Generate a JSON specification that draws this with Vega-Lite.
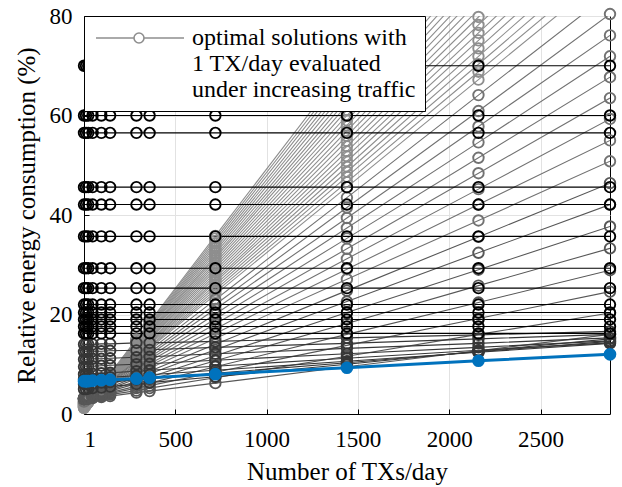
{
"$schema": "https://vega.github.io/schema/vega-lite/v6.json",
"width": 526, "height": 398,
"autosize": "none",
"padding": {"left": 84, "top": 16, "right": 12, "bottom": 73},
"config": {
 "font": "Liberation Serif",
 "view": {"stroke": "black", "strokeWidth": 1},
 "axis": {"labelFontSize": 23, "titleFontSize": 25, "titleFontWeight": "normal", "labelColor": "black", "titleColor": "black", "domainColor": "black", "domainWidth": 1, "tickColor": "black", "tickSize": -5, "gridColor": "#e2e2e2", "gridWidth": 1}
},
"data": {"values": [
{"g":1,"s":1,"x":1,"y":1.2},{"g":1,"s":1,"x":12,"y":1.8},{"g":1,"s":1,"x":24,"y":2.4},{"g":1,"s":1,"x":48,"y":3.5},{"g":1,"s":1,"x":96,"y":5.8},{"g":1,"s":1,"x":144,"y":8.1},{"g":1,"s":1,"x":288,"y":15.0},{"g":1,"s":1,"x":360,"y":18.5},{"g":1,"s":1,"x":720,"y":35.8},{"g":1,"s":1,"x":1440,"y":70.3},{"g":1,"s":1,"x":2160,"y":104.9},
{"g":1,"s":2,"x":1,"y":1.3},{"g":1,"s":2,"x":12,"y":1.9},{"g":1,"s":2,"x":24,"y":2.4},{"g":1,"s":2,"x":48,"y":3.5},{"g":1,"s":2,"x":96,"y":5.8},{"g":1,"s":2,"x":144,"y":8.0},{"g":1,"s":2,"x":288,"y":14.7},{"g":1,"s":2,"x":360,"y":18.0},{"g":1,"s":2,"x":720,"y":34.8},{"g":1,"s":2,"x":1440,"y":68.3},{"g":1,"s":2,"x":2160,"y":101.7},
{"g":1,"s":3,"x":1,"y":1.4},{"g":1,"s":3,"x":12,"y":1.9},{"g":1,"s":3,"x":24,"y":2.5},{"g":1,"s":3,"x":48,"y":3.6},{"g":1,"s":3,"x":96,"y":5.7},{"g":1,"s":3,"x":144,"y":7.9},{"g":1,"s":3,"x":288,"y":14.4},{"g":1,"s":3,"x":360,"y":17.6},{"g":1,"s":3,"x":720,"y":33.8},{"g":1,"s":3,"x":1440,"y":66.2},{"g":1,"s":3,"x":2160,"y":98.6},
{"g":1,"s":4,"x":1,"y":1.5},{"g":1,"s":4,"x":12,"y":2.0},{"g":1,"s":4,"x":24,"y":2.5},{"g":1,"s":4,"x":48,"y":3.6},{"g":1,"s":4,"x":96,"y":5.7},{"g":1,"s":4,"x":144,"y":7.8},{"g":1,"s":4,"x":288,"y":14.0},{"g":1,"s":4,"x":360,"y":17.2},{"g":1,"s":4,"x":720,"y":32.8},{"g":1,"s":4,"x":1440,"y":64.1},{"g":1,"s":4,"x":2160,"y":95.5},
{"g":1,"s":5,"x":1,"y":1.6},{"g":1,"s":5,"x":12,"y":2.1},{"g":1,"s":5,"x":24,"y":2.6},{"g":1,"s":5,"x":48,"y":3.6},{"g":1,"s":5,"x":96,"y":5.6},{"g":1,"s":5,"x":144,"y":7.6},{"g":1,"s":5,"x":288,"y":13.7},{"g":1,"s":5,"x":360,"y":16.7},{"g":1,"s":5,"x":720,"y":31.8},{"g":1,"s":5,"x":1440,"y":62.1},{"g":1,"s":5,"x":2160,"y":92.3},
{"g":1,"s":6,"x":1,"y":1.7},{"g":1,"s":6,"x":12,"y":2.2},{"g":1,"s":6,"x":24,"y":2.7},{"g":1,"s":6,"x":48,"y":3.6},{"g":1,"s":6,"x":96,"y":5.6},{"g":1,"s":6,"x":144,"y":7.5},{"g":1,"s":6,"x":288,"y":13.4},{"g":1,"s":6,"x":360,"y":16.3},{"g":1,"s":6,"x":720,"y":30.9},{"g":1,"s":6,"x":1440,"y":60.0},{"g":1,"s":6,"x":2160,"y":89.2},
{"g":1,"s":7,"x":1,"y":1.8},{"g":1,"s":7,"x":12,"y":2.3},{"g":1,"s":7,"x":24,"y":2.7},{"g":1,"s":7,"x":48,"y":3.7},{"g":1,"s":7,"x":96,"y":5.5},{"g":1,"s":7,"x":144,"y":7.4},{"g":1,"s":7,"x":288,"y":13.0},{"g":1,"s":7,"x":360,"y":15.8},{"g":1,"s":7,"x":720,"y":29.9},{"g":1,"s":7,"x":1440,"y":58.0},{"g":1,"s":7,"x":2160,"y":86.0},
{"g":1,"s":8,"x":1,"y":1.9},{"g":1,"s":8,"x":12,"y":2.4},{"g":1,"s":8,"x":24,"y":2.8},{"g":1,"s":8,"x":48,"y":3.7},{"g":1,"s":8,"x":96,"y":5.5},{"g":1,"s":8,"x":144,"y":7.3},{"g":1,"s":8,"x":288,"y":12.7},{"g":1,"s":8,"x":360,"y":15.4},{"g":1,"s":8,"x":720,"y":28.9},{"g":1,"s":8,"x":1440,"y":55.9},{"g":1,"s":8,"x":2160,"y":82.9},
{"g":1,"s":9,"x":1,"y":2.0},{"g":1,"s":9,"x":12,"y":2.4},{"g":1,"s":9,"x":24,"y":2.9},{"g":1,"s":9,"x":48,"y":3.7},{"g":1,"s":9,"x":96,"y":5.5},{"g":1,"s":9,"x":144,"y":7.2},{"g":1,"s":9,"x":288,"y":12.4},{"g":1,"s":9,"x":360,"y":15.0},{"g":1,"s":9,"x":720,"y":27.9},{"g":1,"s":9,"x":1440,"y":53.8},{"g":1,"s":9,"x":2160,"y":79.8},{"g":1,"s":9,"x":2880,"y":105.7},
{"g":1,"s":10,"x":1,"y":2.1},{"g":1,"s":10,"x":12,"y":2.5},{"g":1,"s":10,"x":24,"y":2.9},{"g":1,"s":10,"x":48,"y":3.8},{"g":1,"s":10,"x":96,"y":5.4},{"g":1,"s":10,"x":144,"y":7.1},{"g":1,"s":10,"x":288,"y":12.0},{"g":1,"s":10,"x":360,"y":14.5},{"g":1,"s":10,"x":720,"y":26.9},{"g":1,"s":10,"x":1440,"y":51.8},{"g":1,"s":10,"x":2160,"y":76.6},{"g":1,"s":10,"x":2880,"y":101.5},
{"g":1,"s":11,"x":1,"y":2.2},{"g":1,"s":11,"x":12,"y":2.6},{"g":1,"s":11,"x":24,"y":3.0},{"g":1,"s":11,"x":48,"y":3.8},{"g":1,"s":11,"x":96,"y":5.4},{"g":1,"s":11,"x":144,"y":7.0},{"g":1,"s":11,"x":288,"y":11.7},{"g":1,"s":11,"x":360,"y":14.1},{"g":1,"s":11,"x":720,"y":26.0},{"g":1,"s":11,"x":1440,"y":49.7},{"g":1,"s":11,"x":2160,"y":73.5},{"g":1,"s":11,"x":2880,"y":97.2},
{"g":1,"s":12,"x":1,"y":2.3},{"g":1,"s":12,"x":12,"y":2.7},{"g":1,"s":12,"x":24,"y":3.1},{"g":1,"s":12,"x":48,"y":3.8},{"g":1,"s":12,"x":96,"y":5.3},{"g":1,"s":12,"x":144,"y":6.8},{"g":1,"s":12,"x":288,"y":11.4},{"g":1,"s":12,"x":360,"y":13.6},{"g":1,"s":12,"x":720,"y":25.0},{"g":1,"s":12,"x":1440,"y":47.7},{"g":1,"s":12,"x":2160,"y":70.3},{"g":1,"s":12,"x":2880,"y":93.0},
{"g":1,"s":13,"x":1,"y":2.4},{"g":1,"s":13,"x":12,"y":2.8},{"g":1,"s":13,"x":24,"y":3.1},{"g":1,"s":13,"x":48,"y":3.8},{"g":1,"s":13,"x":96,"y":5.3},{"g":1,"s":13,"x":144,"y":6.7},{"g":1,"s":13,"x":288,"y":11.0},{"g":1,"s":13,"x":360,"y":13.2},{"g":1,"s":13,"x":720,"y":24.0},{"g":1,"s":13,"x":1440,"y":45.6},{"g":1,"s":13,"x":2160,"y":67.2},{"g":1,"s":13,"x":2880,"y":88.8},
{"g":1,"s":61,"x":1,"y":1.3},{"g":1,"s":61,"x":12,"y":1.8},{"g":1,"s":61,"x":24,"y":2.4},{"g":1,"s":61,"x":48,"y":3.5},{"g":1,"s":61,"x":96,"y":5.8},{"g":1,"s":61,"x":144,"y":8.1},{"g":1,"s":61,"x":288,"y":14.9},{"g":1,"s":61,"x":360,"y":18.3},{"g":1,"s":61,"x":720,"y":35.3},{"g":1,"s":61,"x":1440,"y":69.3},{"g":1,"s":61,"x":2160,"y":103.3},
{"g":1,"s":62,"x":1,"y":1.4},{"g":1,"s":62,"x":12,"y":1.9},{"g":1,"s":62,"x":24,"y":2.4},{"g":1,"s":62,"x":48,"y":3.5},{"g":1,"s":62,"x":96,"y":5.7},{"g":1,"s":62,"x":144,"y":7.9},{"g":1,"s":62,"x":288,"y":14.5},{"g":1,"s":62,"x":360,"y":17.8},{"g":1,"s":62,"x":720,"y":34.3},{"g":1,"s":62,"x":1440,"y":67.2},{"g":1,"s":62,"x":2160,"y":100.2},
{"g":1,"s":63,"x":1,"y":1.5},{"g":1,"s":63,"x":12,"y":2.0},{"g":1,"s":63,"x":24,"y":2.5},{"g":1,"s":63,"x":48,"y":3.6},{"g":1,"s":63,"x":96,"y":5.7},{"g":1,"s":63,"x":144,"y":7.8},{"g":1,"s":63,"x":288,"y":14.2},{"g":1,"s":63,"x":360,"y":17.4},{"g":1,"s":63,"x":720,"y":33.3},{"g":1,"s":63,"x":1440,"y":65.2},{"g":1,"s":63,"x":2160,"y":97.0},
{"g":1,"s":64,"x":1,"y":1.6},{"g":1,"s":64,"x":12,"y":2.1},{"g":1,"s":64,"x":24,"y":2.6},{"g":1,"s":64,"x":48,"y":3.6},{"g":1,"s":64,"x":96,"y":5.7},{"g":1,"s":64,"x":144,"y":7.7},{"g":1,"s":64,"x":288,"y":13.9},{"g":1,"s":64,"x":360,"y":16.9},{"g":1,"s":64,"x":720,"y":32.3},{"g":1,"s":64,"x":1440,"y":63.1},{"g":1,"s":64,"x":2160,"y":93.9},
{"g":1,"s":65,"x":1,"y":1.7},{"g":1,"s":65,"x":12,"y":2.1},{"g":1,"s":65,"x":24,"y":2.6},{"g":1,"s":65,"x":48,"y":3.6},{"g":1,"s":65,"x":96,"y":5.6},{"g":1,"s":65,"x":144,"y":7.6},{"g":1,"s":65,"x":288,"y":13.5},{"g":1,"s":65,"x":360,"y":16.5},{"g":1,"s":65,"x":720,"y":31.4},{"g":1,"s":65,"x":1440,"y":61.1},{"g":1,"s":65,"x":2160,"y":90.8},
{"g":1,"s":66,"x":1,"y":1.8},{"g":1,"s":66,"x":12,"y":2.2},{"g":1,"s":66,"x":24,"y":2.7},{"g":1,"s":66,"x":48,"y":3.7},{"g":1,"s":66,"x":96,"y":5.6},{"g":1,"s":66,"x":144,"y":7.5},{"g":1,"s":66,"x":288,"y":13.2},{"g":1,"s":66,"x":360,"y":16.1},{"g":1,"s":66,"x":720,"y":30.4},{"g":1,"s":66,"x":1440,"y":59.0},{"g":1,"s":66,"x":2160,"y":87.6},
{"g":1,"s":67,"x":1,"y":1.9},{"g":1,"s":67,"x":12,"y":2.3},{"g":1,"s":67,"x":24,"y":2.8},{"g":1,"s":67,"x":48,"y":3.7},{"g":1,"s":67,"x":96,"y":5.5},{"g":1,"s":67,"x":144,"y":7.4},{"g":1,"s":67,"x":288,"y":12.9},{"g":1,"s":67,"x":360,"y":15.6},{"g":1,"s":67,"x":720,"y":29.4},{"g":1,"s":67,"x":1440,"y":56.9},{"g":1,"s":67,"x":2160,"y":84.5},
{"g":1,"s":68,"x":1,"y":2.0},{"g":1,"s":68,"x":12,"y":2.4},{"g":1,"s":68,"x":24,"y":2.8},{"g":1,"s":68,"x":48,"y":3.7},{"g":1,"s":68,"x":96,"y":5.5},{"g":1,"s":68,"x":144,"y":7.2},{"g":1,"s":68,"x":288,"y":12.5},{"g":1,"s":68,"x":360,"y":15.2},{"g":1,"s":68,"x":720,"y":28.4},{"g":1,"s":68,"x":1440,"y":54.9},{"g":1,"s":68,"x":2160,"y":81.3},
{"g":1,"s":69,"x":1,"y":2.1},{"g":1,"s":69,"x":12,"y":2.5},{"g":1,"s":69,"x":24,"y":2.9},{"g":1,"s":69,"x":48,"y":3.7},{"g":1,"s":69,"x":96,"y":5.4},{"g":1,"s":69,"x":144,"y":7.1},{"g":1,"s":69,"x":288,"y":12.2},{"g":1,"s":69,"x":360,"y":14.7},{"g":1,"s":69,"x":720,"y":27.4},{"g":1,"s":69,"x":1440,"y":52.8},{"g":1,"s":69,"x":2160,"y":78.2},{"g":1,"s":69,"x":2880,"y":103.6},
{"g":1,"s":70,"x":1,"y":2.2},{"g":1,"s":70,"x":12,"y":2.6},{"g":1,"s":70,"x":24,"y":3.0},{"g":1,"s":70,"x":48,"y":3.8},{"g":1,"s":70,"x":96,"y":5.4},{"g":1,"s":70,"x":144,"y":7.0},{"g":1,"s":70,"x":288,"y":11.9},{"g":1,"s":70,"x":360,"y":14.3},{"g":1,"s":70,"x":720,"y":26.5},{"g":1,"s":70,"x":1440,"y":50.8},{"g":1,"s":70,"x":2160,"y":75.1},{"g":1,"s":70,"x":2880,"y":99.4},
{"g":1,"s":71,"x":1,"y":2.3},{"g":1,"s":71,"x":12,"y":2.6},{"g":1,"s":71,"x":24,"y":3.0},{"g":1,"s":71,"x":48,"y":3.8},{"g":1,"s":71,"x":96,"y":5.3},{"g":1,"s":71,"x":144,"y":6.9},{"g":1,"s":71,"x":288,"y":11.5},{"g":1,"s":71,"x":360,"y":13.9},{"g":1,"s":71,"x":720,"y":25.5},{"g":1,"s":71,"x":1440,"y":48.7},{"g":1,"s":71,"x":2160,"y":71.9},{"g":1,"s":71,"x":2880,"y":95.1},
{"g":1,"s":72,"x":1,"y":2.4},{"g":1,"s":72,"x":12,"y":2.7},{"g":1,"s":72,"x":24,"y":3.1},{"g":1,"s":72,"x":48,"y":3.8},{"g":1,"s":72,"x":96,"y":5.3},{"g":1,"s":72,"x":144,"y":6.8},{"g":1,"s":72,"x":288,"y":11.2},{"g":1,"s":72,"x":360,"y":13.4},{"g":1,"s":72,"x":720,"y":24.5},{"g":1,"s":72,"x":1440,"y":46.6},{"g":1,"s":72,"x":2160,"y":68.8},{"g":1,"s":72,"x":2880,"y":90.9},
{"g":2,"s":14,"x":1,"y":2.5},{"g":2,"s":14,"x":12,"y":2.8},{"g":2,"s":14,"x":24,"y":3.2},{"g":2,"s":14,"x":48,"y":3.9},{"g":2,"s":14,"x":96,"y":5.2},{"g":2,"s":14,"x":144,"y":6.6},{"g":2,"s":14,"x":288,"y":10.7},{"g":2,"s":14,"x":360,"y":12.8},{"g":2,"s":14,"x":720,"y":23.0},{"g":2,"s":14,"x":1440,"y":43.5},{"g":2,"s":14,"x":2160,"y":64.1},{"g":2,"s":14,"x":2880,"y":84.6},
{"g":2,"s":15,"x":1,"y":2.6},{"g":2,"s":15,"x":12,"y":2.9},{"g":2,"s":15,"x":24,"y":3.2},{"g":2,"s":15,"x":48,"y":3.9},{"g":2,"s":15,"x":96,"y":5.2},{"g":2,"s":15,"x":144,"y":6.5},{"g":2,"s":15,"x":288,"y":10.4},{"g":2,"s":15,"x":360,"y":12.3},{"g":2,"s":15,"x":720,"y":22.0},{"g":2,"s":15,"x":1440,"y":41.5},{"g":2,"s":15,"x":2160,"y":60.9},{"g":2,"s":15,"x":2880,"y":80.4},
{"g":2,"s":16,"x":1,"y":2.7},{"g":2,"s":16,"x":12,"y":3.0},{"g":2,"s":16,"x":24,"y":3.3},{"g":2,"s":16,"x":48,"y":3.9},{"g":2,"s":16,"x":96,"y":5.1},{"g":2,"s":16,"x":144,"y":6.4},{"g":2,"s":16,"x":288,"y":10.0},{"g":2,"s":16,"x":360,"y":11.9},{"g":2,"s":16,"x":720,"y":21.1},{"g":2,"s":16,"x":1440,"y":39.4},{"g":2,"s":16,"x":2160,"y":57.8},{"g":2,"s":16,"x":2880,"y":76.1},
{"g":2,"s":17,"x":1,"y":2.8},{"g":2,"s":17,"x":12,"y":3.1},{"g":2,"s":17,"x":24,"y":3.4},{"g":2,"s":17,"x":48,"y":4.0},{"g":2,"s":17,"x":96,"y":5.1},{"g":2,"s":17,"x":144,"y":6.3},{"g":2,"s":17,"x":288,"y":9.7},{"g":2,"s":17,"x":360,"y":11.4},{"g":2,"s":17,"x":720,"y":20.1},{"g":2,"s":17,"x":1440,"y":37.4},{"g":2,"s":17,"x":2160,"y":54.6},{"g":2,"s":17,"x":2880,"y":71.9},
{"g":2,"s":18,"x":1,"y":2.9},{"g":2,"s":18,"x":12,"y":3.2},{"g":2,"s":18,"x":24,"y":3.4},{"g":2,"s":18,"x":48,"y":4.0},{"g":2,"s":18,"x":96,"y":5.1},{"g":2,"s":18,"x":144,"y":6.1},{"g":2,"s":18,"x":288,"y":9.4},{"g":2,"s":18,"x":360,"y":11.0},{"g":2,"s":18,"x":720,"y":19.1},{"g":2,"s":18,"x":1440,"y":35.3},{"g":2,"s":18,"x":2160,"y":51.5},{"g":2,"s":18,"x":2880,"y":67.7},
{"g":2,"s":19,"x":1,"y":3.0},{"g":2,"s":19,"x":12,"y":3.3},{"g":2,"s":19,"x":24,"y":3.5},{"g":2,"s":19,"x":48,"y":4.0},{"g":2,"s":19,"x":96,"y":5.0},{"g":2,"s":19,"x":144,"y":6.0},{"g":2,"s":19,"x":288,"y":9.0},{"g":2,"s":19,"x":360,"y":10.6},{"g":2,"s":19,"x":720,"y":18.1},{"g":2,"s":19,"x":1440,"y":33.2},{"g":2,"s":19,"x":2160,"y":48.4},{"g":2,"s":19,"x":2880,"y":63.5},
{"g":2,"s":20,"x":1,"y":3.1},{"g":2,"s":20,"x":12,"y":3.3},{"g":2,"s":20,"x":24,"y":3.6},{"g":2,"s":20,"x":48,"y":4.0},{"g":2,"s":20,"x":96,"y":5.0},{"g":2,"s":20,"x":144,"y":5.9},{"g":2,"s":20,"x":288,"y":8.7},{"g":2,"s":20,"x":360,"y":10.1},{"g":2,"s":20,"x":720,"y":17.1},{"g":2,"s":20,"x":1440,"y":31.2},{"g":2,"s":20,"x":2160,"y":45.2},{"g":2,"s":20,"x":2880,"y":59.3},
{"g":2,"s":21,"x":1,"y":3.2},{"g":2,"s":21,"x":12,"y":3.4},{"g":2,"s":21,"x":24,"y":3.6},{"g":2,"s":21,"x":48,"y":4.1},{"g":2,"s":21,"x":96,"y":4.9},{"g":2,"s":21,"x":144,"y":5.8},{"g":2,"s":21,"x":288,"y":8.4},{"g":2,"s":21,"x":360,"y":9.7},{"g":2,"s":21,"x":720,"y":16.2},{"g":2,"s":21,"x":1440,"y":29.1},{"g":2,"s":21,"x":2160,"y":42.1},{"g":2,"s":21,"x":2880,"y":55.0},
{"g":2,"s":22,"x":1,"y":3.3},{"g":2,"s":22,"x":12,"y":3.5},{"g":2,"s":22,"x":24,"y":3.7},{"g":2,"s":22,"x":48,"y":4.1},{"g":2,"s":22,"x":96,"y":4.9},{"g":2,"s":22,"x":144,"y":5.7},{"g":2,"s":22,"x":288,"y":8.1},{"g":2,"s":22,"x":360,"y":9.2},{"g":2,"s":22,"x":720,"y":15.2},{"g":2,"s":22,"x":1440,"y":27.1},{"g":2,"s":22,"x":2160,"y":38.9},{"g":2,"s":22,"x":2880,"y":50.8},
{"g":3,"s":23,"x":1,"y":3.2},{"g":3,"s":23,"x":12,"y":3.4},{"g":3,"s":23,"x":24,"y":3.6},{"g":3,"s":23,"x":48,"y":3.9},{"g":3,"s":23,"x":96,"y":4.6},{"g":3,"s":23,"x":144,"y":5.4},{"g":3,"s":23,"x":288,"y":7.5},{"g":3,"s":23,"x":360,"y":8.6},{"g":3,"s":23,"x":720,"y":14.0},{"g":3,"s":23,"x":1440,"y":24.8},{"g":3,"s":23,"x":2160,"y":35.6},{"g":3,"s":23,"x":2880,"y":46.4},
{"g":3,"s":24,"x":1,"y":3.2},{"g":3,"s":24,"x":12,"y":3.4},{"g":3,"s":24,"x":24,"y":3.5},{"g":3,"s":24,"x":48,"y":3.8},{"g":3,"s":24,"x":96,"y":4.5},{"g":3,"s":24,"x":144,"y":5.1},{"g":3,"s":24,"x":288,"y":7.1},{"g":3,"s":24,"x":360,"y":8.1},{"g":3,"s":24,"x":720,"y":12.9},{"g":3,"s":24,"x":1440,"y":22.6},{"g":3,"s":24,"x":2160,"y":32.4},{"g":3,"s":24,"x":2880,"y":42.1},
{"g":3,"s":25,"x":1,"y":3.1},{"g":3,"s":25,"x":12,"y":3.2},{"g":3,"s":25,"x":24,"y":3.4},{"g":3,"s":25,"x":48,"y":3.7},{"g":3,"s":25,"x":96,"y":4.3},{"g":3,"s":25,"x":144,"y":4.8},{"g":3,"s":25,"x":288,"y":6.6},{"g":3,"s":25,"x":360,"y":7.4},{"g":3,"s":25,"x":720,"y":11.7},{"g":3,"s":25,"x":1440,"y":20.4},{"g":3,"s":25,"x":2160,"y":29.0},{"g":3,"s":25,"x":2880,"y":37.7},
{"g":3,"s":26,"x":1,"y":3.1},{"g":3,"s":26,"x":12,"y":3.2},{"g":3,"s":26,"x":24,"y":3.4},{"g":3,"s":26,"x":48,"y":3.6},{"g":3,"s":26,"x":96,"y":4.1},{"g":3,"s":26,"x":144,"y":4.6},{"g":3,"s":26,"x":288,"y":6.1},{"g":3,"s":26,"x":360,"y":6.9},{"g":3,"s":26,"x":720,"y":10.7},{"g":3,"s":26,"x":1440,"y":18.2},{"g":3,"s":26,"x":2160,"y":25.8},{"g":3,"s":26,"x":2880,"y":33.3},
{"g":3,"s":27,"x":1,"y":3.0},{"g":3,"s":27,"x":12,"y":3.1},{"g":3,"s":27,"x":24,"y":3.2},{"g":3,"s":27,"x":48,"y":3.4},{"g":3,"s":27,"x":96,"y":3.9},{"g":3,"s":27,"x":144,"y":4.3},{"g":3,"s":27,"x":288,"y":5.6},{"g":3,"s":27,"x":360,"y":6.2},{"g":3,"s":27,"x":720,"y":9.5},{"g":3,"s":27,"x":1440,"y":16.0},{"g":3,"s":27,"x":2160,"y":22.4},{"g":3,"s":27,"x":2880,"y":28.9},
{"g":3,"s":28,"x":1,"y":3.0},{"g":3,"s":28,"x":12,"y":3.1},{"g":3,"s":28,"x":24,"y":3.2},{"g":3,"s":28,"x":48,"y":3.4},{"g":3,"s":28,"x":96,"y":3.7},{"g":3,"s":28,"x":144,"y":4.1},{"g":3,"s":28,"x":288,"y":5.2},{"g":3,"s":28,"x":360,"y":5.7},{"g":3,"s":28,"x":720,"y":8.4},{"g":3,"s":28,"x":1440,"y":13.8},{"g":3,"s":28,"x":2160,"y":19.2},{"g":3,"s":28,"x":2880,"y":24.6},
{"g":3,"s":29,"x":1,"y":3.0},{"g":3,"s":29,"x":12,"y":3.1},{"g":3,"s":29,"x":24,"y":3.1},{"g":3,"s":29,"x":48,"y":3.3},{"g":3,"s":29,"x":96,"y":3.6},{"g":3,"s":29,"x":144,"y":3.9},{"g":3,"s":29,"x":288,"y":4.7},{"g":3,"s":29,"x":360,"y":5.2},{"g":3,"s":29,"x":720,"y":7.3},{"g":3,"s":29,"x":1440,"y":11.6},{"g":3,"s":29,"x":2160,"y":16.0},{"g":3,"s":29,"x":2880,"y":20.3},
{"g":3,"s":30,"x":1,"y":3.0},{"g":3,"s":30,"x":12,"y":3.1},{"g":3,"s":30,"x":24,"y":3.1},{"g":3,"s":30,"x":48,"y":3.2},{"g":3,"s":30,"x":96,"y":3.4},{"g":3,"s":30,"x":144,"y":3.6},{"g":3,"s":30,"x":288,"y":4.3},{"g":3,"s":30,"x":360,"y":4.6},{"g":3,"s":30,"x":720,"y":6.2},{"g":3,"s":30,"x":1440,"y":9.5},{"g":3,"s":30,"x":2160,"y":12.7},{"g":3,"s":30,"x":2880,"y":16.0},
{"g":4,"s":31,"x":1,"y":5.0},{"g":4,"s":31,"x":12,"y":5.0},{"g":4,"s":31,"x":24,"y":5.1},{"g":4,"s":31,"x":48,"y":5.2},{"g":4,"s":31,"x":96,"y":5.3},{"g":4,"s":31,"x":144,"y":5.5},{"g":4,"s":31,"x":288,"y":6.0},{"g":4,"s":31,"x":360,"y":6.3},{"g":4,"s":31,"x":720,"y":7.5},{"g":4,"s":31,"x":1440,"y":10.0},{"g":4,"s":31,"x":2160,"y":12.6},{"g":4,"s":31,"x":2880,"y":15.1},
{"g":4,"s":32,"x":1,"y":6.0},{"g":4,"s":32,"x":12,"y":6.0},{"g":4,"s":32,"x":24,"y":6.1},{"g":4,"s":32,"x":48,"y":6.1},{"g":4,"s":32,"x":96,"y":6.3},{"g":4,"s":32,"x":144,"y":6.4},{"g":4,"s":32,"x":288,"y":6.9},{"g":4,"s":32,"x":360,"y":7.1},{"g":4,"s":32,"x":720,"y":8.2},{"g":4,"s":32,"x":1440,"y":10.3},{"g":4,"s":32,"x":2160,"y":12.5},{"g":4,"s":32,"x":2880,"y":14.6},
{"g":4,"s":33,"x":1,"y":7.0},{"g":4,"s":33,"x":12,"y":7.0},{"g":4,"s":33,"x":24,"y":7.1},{"g":4,"s":33,"x":48,"y":7.1},{"g":4,"s":33,"x":96,"y":7.2},{"g":4,"s":33,"x":144,"y":7.4},{"g":4,"s":33,"x":288,"y":7.7},{"g":4,"s":33,"x":360,"y":7.9},{"g":4,"s":33,"x":720,"y":8.8},{"g":4,"s":33,"x":1440,"y":10.6},{"g":4,"s":33,"x":2160,"y":12.4},{"g":4,"s":33,"x":2880,"y":14.2},
{"g":4,"s":34,"x":1,"y":8.0},{"g":4,"s":34,"x":12,"y":8.0},{"g":4,"s":34,"x":24,"y":8.1},{"g":4,"s":34,"x":48,"y":8.1},{"g":4,"s":34,"x":96,"y":8.2},{"g":4,"s":34,"x":144,"y":8.3},{"g":4,"s":34,"x":288,"y":8.6},{"g":4,"s":34,"x":360,"y":8.8},{"g":4,"s":34,"x":720,"y":9.6},{"g":4,"s":34,"x":1440,"y":11.2},{"g":4,"s":34,"x":2160,"y":12.8},{"g":4,"s":34,"x":2880,"y":14.3},
{"g":4,"s":35,"x":1,"y":9.5},{"g":4,"s":35,"x":12,"y":9.5},{"g":4,"s":35,"x":24,"y":9.5},{"g":4,"s":35,"x":48,"y":9.6},{"g":4,"s":35,"x":96,"y":9.7},{"g":4,"s":35,"x":144,"y":9.8},{"g":4,"s":35,"x":288,"y":10.0},{"g":4,"s":35,"x":360,"y":10.1},{"g":4,"s":35,"x":720,"y":10.8},{"g":4,"s":35,"x":1440,"y":12.1},{"g":4,"s":35,"x":2160,"y":13.4},{"g":4,"s":35,"x":2880,"y":14.7},
{"g":4,"s":36,"x":1,"y":11.0},{"g":4,"s":36,"x":12,"y":11.0},{"g":4,"s":36,"x":24,"y":11.0},{"g":4,"s":36,"x":48,"y":11.1},{"g":4,"s":36,"x":96,"y":11.1},{"g":4,"s":36,"x":144,"y":11.2},{"g":4,"s":36,"x":288,"y":11.4},{"g":4,"s":36,"x":360,"y":11.5},{"g":4,"s":36,"x":720,"y":12.1},{"g":4,"s":36,"x":1440,"y":13.2},{"g":4,"s":36,"x":2160,"y":14.2},{"g":4,"s":36,"x":2880,"y":15.3},
{"g":4,"s":37,"x":1,"y":12.5},{"g":4,"s":37,"x":12,"y":12.5},{"g":4,"s":37,"x":24,"y":12.5},{"g":4,"s":37,"x":48,"y":12.6},{"g":4,"s":37,"x":96,"y":12.6},{"g":4,"s":37,"x":144,"y":12.7},{"g":4,"s":37,"x":288,"y":12.8},{"g":4,"s":37,"x":360,"y":12.9},{"g":4,"s":37,"x":720,"y":13.4},{"g":4,"s":37,"x":1440,"y":14.2},{"g":4,"s":37,"x":2160,"y":15.1},{"g":4,"s":37,"x":2880,"y":16.0},
{"g":4,"s":38,"x":1,"y":14.0},{"g":4,"s":38,"x":12,"y":14.0},{"g":4,"s":38,"x":24,"y":14.0},{"g":4,"s":38,"x":48,"y":14.0},{"g":4,"s":38,"x":96,"y":14.1},{"g":4,"s":38,"x":144,"y":14.1},{"g":4,"s":38,"x":288,"y":14.3},{"g":4,"s":38,"x":360,"y":14.3},{"g":4,"s":38,"x":720,"y":14.6},{"g":4,"s":38,"x":1440,"y":15.3},{"g":4,"s":38,"x":2160,"y":15.9},{"g":4,"s":38,"x":2880,"y":16.6},
{"g":5,"s":39,"x":1,"y":70.0},{"g":5,"s":39,"x":12,"y":70.0},{"g":5,"s":39,"x":24,"y":70.0},{"g":5,"s":39,"x":48,"y":70.0},{"g":5,"s":39,"x":96,"y":70.0},{"g":5,"s":39,"x":144,"y":70.0},{"g":5,"s":39,"x":288,"y":70.0},{"g":5,"s":39,"x":360,"y":70.0},{"g":5,"s":39,"x":720,"y":70.0},{"g":5,"s":39,"x":1440,"y":70.0},{"g":5,"s":39,"x":2160,"y":70.0},{"g":5,"s":39,"x":2880,"y":70.0},
{"g":5,"s":40,"x":1,"y":60.0},{"g":5,"s":40,"x":12,"y":60.0},{"g":5,"s":40,"x":24,"y":60.0},{"g":5,"s":40,"x":48,"y":60.0},{"g":5,"s":40,"x":96,"y":60.0},{"g":5,"s":40,"x":144,"y":60.0},{"g":5,"s":40,"x":288,"y":60.0},{"g":5,"s":40,"x":360,"y":60.0},{"g":5,"s":40,"x":720,"y":60.0},{"g":5,"s":40,"x":1440,"y":60.0},{"g":5,"s":40,"x":2160,"y":60.0},{"g":5,"s":40,"x":2880,"y":60.0},
{"g":5,"s":41,"x":1,"y":56.5},{"g":5,"s":41,"x":12,"y":56.5},{"g":5,"s":41,"x":24,"y":56.5},{"g":5,"s":41,"x":48,"y":56.5},{"g":5,"s":41,"x":96,"y":56.5},{"g":5,"s":41,"x":144,"y":56.5},{"g":5,"s":41,"x":288,"y":56.5},{"g":5,"s":41,"x":360,"y":56.5},{"g":5,"s":41,"x":720,"y":56.5},{"g":5,"s":41,"x":1440,"y":56.5},{"g":5,"s":41,"x":2160,"y":56.5},{"g":5,"s":41,"x":2880,"y":56.5},
{"g":5,"s":42,"x":1,"y":45.6},{"g":5,"s":42,"x":12,"y":45.6},{"g":5,"s":42,"x":24,"y":45.6},{"g":5,"s":42,"x":48,"y":45.6},{"g":5,"s":42,"x":96,"y":45.6},{"g":5,"s":42,"x":144,"y":45.6},{"g":5,"s":42,"x":288,"y":45.6},{"g":5,"s":42,"x":360,"y":45.6},{"g":5,"s":42,"x":720,"y":45.6},{"g":5,"s":42,"x":1440,"y":45.6},{"g":5,"s":42,"x":2160,"y":45.6},{"g":5,"s":42,"x":2880,"y":45.6},
{"g":5,"s":43,"x":1,"y":42.1},{"g":5,"s":43,"x":12,"y":42.1},{"g":5,"s":43,"x":24,"y":42.1},{"g":5,"s":43,"x":48,"y":42.1},{"g":5,"s":43,"x":96,"y":42.1},{"g":5,"s":43,"x":144,"y":42.1},{"g":5,"s":43,"x":288,"y":42.1},{"g":5,"s":43,"x":360,"y":42.1},{"g":5,"s":43,"x":720,"y":42.1},{"g":5,"s":43,"x":1440,"y":42.1},{"g":5,"s":43,"x":2160,"y":42.1},{"g":5,"s":43,"x":2880,"y":42.1},
{"g":5,"s":44,"x":1,"y":35.7},{"g":5,"s":44,"x":12,"y":35.7},{"g":5,"s":44,"x":24,"y":35.7},{"g":5,"s":44,"x":48,"y":35.7},{"g":5,"s":44,"x":96,"y":35.7},{"g":5,"s":44,"x":144,"y":35.7},{"g":5,"s":44,"x":288,"y":35.7},{"g":5,"s":44,"x":360,"y":35.7},{"g":5,"s":44,"x":720,"y":35.7},{"g":5,"s":44,"x":1440,"y":35.7},{"g":5,"s":44,"x":2160,"y":35.7},{"g":5,"s":44,"x":2880,"y":35.7},
{"g":5,"s":45,"x":1,"y":29.3},{"g":5,"s":45,"x":12,"y":29.3},{"g":5,"s":45,"x":24,"y":29.3},{"g":5,"s":45,"x":48,"y":29.3},{"g":5,"s":45,"x":96,"y":29.3},{"g":5,"s":45,"x":144,"y":29.3},{"g":5,"s":45,"x":288,"y":29.3},{"g":5,"s":45,"x":360,"y":29.3},{"g":5,"s":45,"x":720,"y":29.3},{"g":5,"s":45,"x":1440,"y":29.3},{"g":5,"s":45,"x":2160,"y":29.3},{"g":5,"s":45,"x":2880,"y":29.3},
{"g":5,"s":46,"x":1,"y":25.3},{"g":5,"s":46,"x":12,"y":25.3},{"g":5,"s":46,"x":24,"y":25.3},{"g":5,"s":46,"x":48,"y":25.3},{"g":5,"s":46,"x":96,"y":25.3},{"g":5,"s":46,"x":144,"y":25.3},{"g":5,"s":46,"x":288,"y":25.3},{"g":5,"s":46,"x":360,"y":25.3},{"g":5,"s":46,"x":720,"y":25.3},{"g":5,"s":46,"x":1440,"y":25.3},{"g":5,"s":46,"x":2160,"y":25.3},{"g":5,"s":46,"x":2880,"y":25.3},
{"g":5,"s":47,"x":1,"y":22.0},{"g":5,"s":47,"x":12,"y":22.0},{"g":5,"s":47,"x":24,"y":22.0},{"g":5,"s":47,"x":48,"y":22.0},{"g":5,"s":47,"x":96,"y":22.0},{"g":5,"s":47,"x":144,"y":22.0},{"g":5,"s":47,"x":288,"y":22.0},{"g":5,"s":47,"x":360,"y":22.0},{"g":5,"s":47,"x":720,"y":22.0},{"g":5,"s":47,"x":1440,"y":22.0},{"g":5,"s":47,"x":2160,"y":22.0},{"g":5,"s":47,"x":2880,"y":22.0},
{"g":5,"s":48,"x":1,"y":20.4},{"g":5,"s":48,"x":12,"y":20.4},{"g":5,"s":48,"x":24,"y":20.4},{"g":5,"s":48,"x":48,"y":20.4},{"g":5,"s":48,"x":96,"y":20.4},{"g":5,"s":48,"x":144,"y":20.4},{"g":5,"s":48,"x":288,"y":20.4},{"g":5,"s":48,"x":360,"y":20.4},{"g":5,"s":48,"x":720,"y":20.4},{"g":5,"s":48,"x":1440,"y":20.4},{"g":5,"s":48,"x":2160,"y":20.4},{"g":5,"s":48,"x":2880,"y":20.4},
{"g":5,"s":49,"x":1,"y":19.0},{"g":5,"s":49,"x":12,"y":19.0},{"g":5,"s":49,"x":24,"y":19.0},{"g":5,"s":49,"x":48,"y":19.0},{"g":5,"s":49,"x":96,"y":19.0},{"g":5,"s":49,"x":144,"y":19.0},{"g":5,"s":49,"x":288,"y":19.0},{"g":5,"s":49,"x":360,"y":19.0},{"g":5,"s":49,"x":720,"y":19.0},{"g":5,"s":49,"x":1440,"y":19.0},{"g":5,"s":49,"x":2160,"y":19.0},{"g":5,"s":49,"x":2880,"y":19.0},
{"g":5,"s":50,"x":1,"y":17.6},{"g":5,"s":50,"x":12,"y":17.6},{"g":5,"s":50,"x":24,"y":17.6},{"g":5,"s":50,"x":48,"y":17.6},{"g":5,"s":50,"x":96,"y":17.6},{"g":5,"s":50,"x":144,"y":17.6},{"g":5,"s":50,"x":288,"y":17.6},{"g":5,"s":50,"x":360,"y":17.6},{"g":5,"s":50,"x":720,"y":17.6},{"g":5,"s":50,"x":1440,"y":17.6},{"g":5,"s":50,"x":2160,"y":17.6},{"g":5,"s":50,"x":2880,"y":17.6},
{"g":5,"s":51,"x":1,"y":16.2},{"g":5,"s":51,"x":12,"y":16.2},{"g":5,"s":51,"x":24,"y":16.2},{"g":5,"s":51,"x":48,"y":16.2},{"g":5,"s":51,"x":96,"y":16.2},{"g":5,"s":51,"x":144,"y":16.2},{"g":5,"s":51,"x":288,"y":16.2},{"g":5,"s":51,"x":360,"y":16.2},{"g":5,"s":51,"x":720,"y":16.2},{"g":5,"s":51,"x":1440,"y":16.2},{"g":5,"s":51,"x":2160,"y":16.2},{"g":5,"s":51,"x":2880,"y":16.2},
{"g":6,"s":52,"x":1,"y":6.6},{"g":6,"s":52,"x":12,"y":6.6},{"g":6,"s":52,"x":24,"y":6.6},{"g":6,"s":52,"x":48,"y":6.7},{"g":6,"s":52,"x":96,"y":6.8},{"g":6,"s":52,"x":144,"y":6.9},{"g":6,"s":52,"x":288,"y":7.1},{"g":6,"s":52,"x":360,"y":7.3},{"g":6,"s":52,"x":720,"y":8.0},{"g":6,"s":52,"x":1440,"y":9.3},{"g":6,"s":52,"x":2160,"y":10.7},{"g":6,"s":52,"x":2880,"y":12.0}
]},
"encoding": {
 "x": {"field": "x", "type": "quantitative", "scale": {"domain": [1, 2880], "nice": false, "zero": false},
  "axis": {"title": "Number of TXs/day", "values": [1, 500, 1000, 1500, 2000, 2500], "format": "d", "labelPadding": 19, "titlePadding": 8, "grid": true}},
 "y": {"field": "y", "type": "quantitative", "scale": {"domain": [0, 80], "nice": false},
  "axis": {"title": "Relative energy consumption (%)", "values": [0, 20, 40, 60, 80], "labelPadding": 17, "titlePadding": 10, "grid": true}},
 "detail": {"field": "s", "type": "nominal"}
},
"layer": [
 {"transform": [{"filter": "datum.g != 6"}], "mark": {"type": "line", "clip": true, "strokeWidth": 1.1},
  "encoding": {"color": {"field": "g", "type": "ordinal",
   "scale": {"domain": [1, 2, 3, 4, 5], "range": ["#8e8e8e", "#727272", "#575757", "#363636", "#000000"]},
   "legend": {"values": [1], "orient": "top-left", "offset": 0, "title": null, "padding": 9,
    "strokeColor": "black", "fillColor": "white", "cornerRadius": 0,
    "symbolType": "M-0.833,0L2.333,0M3.167,0L6.5,0M2.333,0A0.417,0.417,0,1,1,3.167,0A0.417,0.417,0,1,1,2.333,0",
    "symbolSize": 576, "symbolStrokeWidth": 1.6, "symbolFillColor": "transparent",
    "labelExpr": "['optimal solutions with', '1 TX/day evaluated', 'under increasing traffic']",
    "labelFontSize": 24, "labelLimit": 400, "labelOffset": 73, "labelColor": "black"}}}},
 {"transform": [{"filter": "datum.g != 6 && datum.y <= 81"}], "mark": {"type": "point", "shape": "circle", "filled": false, "size": 110, "strokeWidth": 1.9, "opacity": 1},
  "encoding": {"color": {"field": "g", "type": "ordinal"}}},
 {"transform": [{"filter": "datum.g == 6"}], "mark": {"type": "line", "strokeWidth": 3, "color": "#0072bd"}},
 {"transform": [{"filter": "datum.g == 6"}], "mark": {"type": "point", "shape": "circle", "filled": true, "size": 160, "opacity": 1, "color": "#0072bd"}}
]
}
